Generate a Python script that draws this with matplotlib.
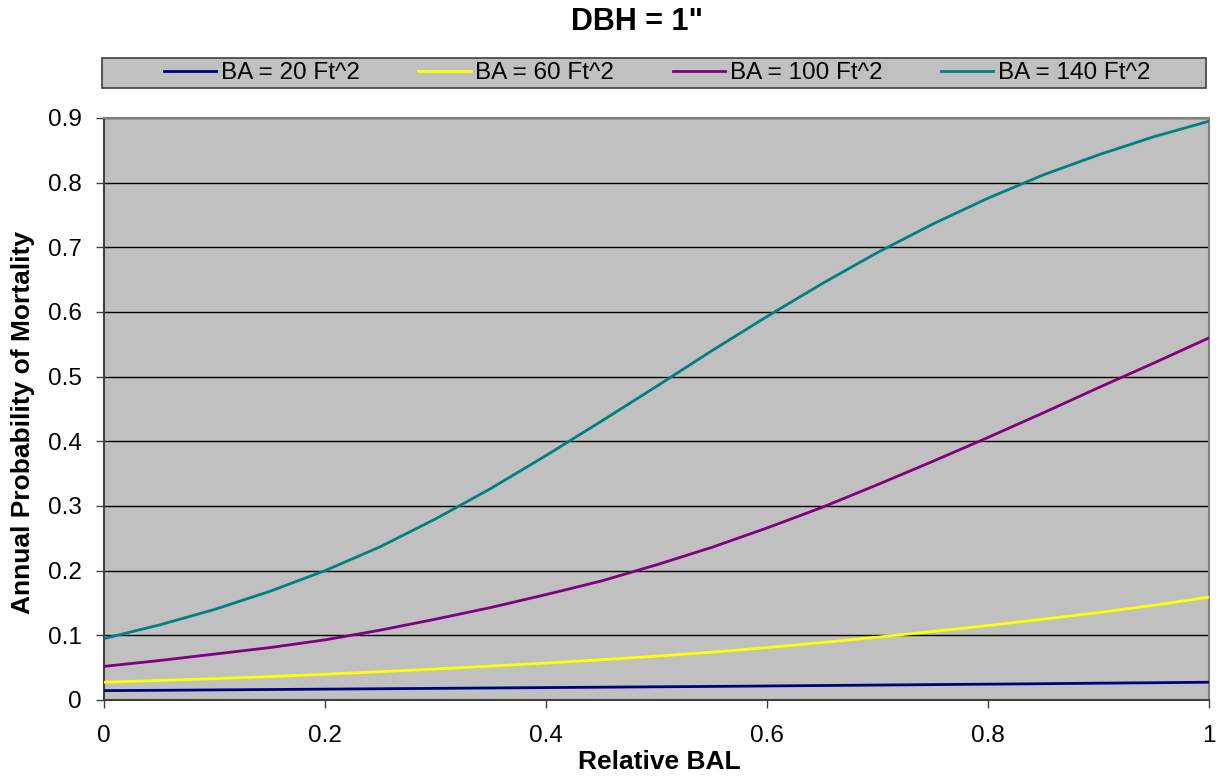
import matplotlib.pyplot as plt
from matplotlib.lines import Line2D
from matplotlib.patches import Rectangle

plt.rcParams["font.family"] = ["Liberation Sans", "DejaVu Sans"]

# relative BAL sampled every 0.05
rel_bal = [0.00, 0.05, 0.10, 0.15, 0.20, 0.25, 0.30, 0.35, 0.40, 0.45, 0.50,
           0.55, 0.60, 0.65, 0.70, 0.75, 0.80, 0.85, 0.90, 0.95, 1.00]

# annual probability of mortality for each stand basal area
ba_20 = [0.0145, 0.0150, 0.0156, 0.0162, 0.0168, 0.0174, 0.0180, 0.0186, 0.0192, 0.0198, 0.0204,
         0.0210, 0.0217, 0.0224, 0.0231, 0.0238, 0.0245, 0.0252, 0.0260, 0.0267, 0.0275]
ba_60 = [0.0275, 0.0302, 0.0330, 0.0362, 0.0398, 0.0438, 0.0480, 0.0524, 0.0571, 0.0622, 0.0678,
         0.0740, 0.0810, 0.0888, 0.0972, 0.1060, 0.1152, 0.1250, 0.1352, 0.1465, 0.1590]
ba_100 = [0.052, 0.061, 0.071, 0.081, 0.093, 0.108, 0.125, 0.143, 0.163, 0.184, 0.209,
          0.236, 0.266, 0.298, 0.333, 0.369, 0.406, 0.444, 0.483, 0.521, 0.560]
ba_140 = [0.095, 0.116, 0.140, 0.168, 0.200, 0.237, 0.280, 0.327, 0.378, 0.431, 0.485,
          0.540, 0.593, 0.644, 0.692, 0.736, 0.776, 0.812, 0.843, 0.871, 0.895]

series = [
    ("BA = 20 Ft^2", ba_20, "#000080"),
    ("BA = 60 Ft^2", ba_60, "#FFFF00"),
    ("BA = 100 Ft^2", ba_100, "#800080"),
    ("BA = 140 Ft^2", ba_140, "#008080"),
]

W, H = 1225, 777
fig = plt.figure(figsize=(W / 100, H / 100), dpi=100)
ax = fig.add_axes([104 / W, (H - 700) / H, 1105 / W, 582 / H])
ax.set_facecolor("#C0C0C0")

for label, values, color in series:
    ax.plot(rel_bal, values, color=color, linewidth=2.0, label=label, zorder=3)

ax.set_xlim(0, 1)
ax.set_ylim(0, 0.9)
ax.set_xticks([0, 0.2, 0.4, 0.6, 0.8, 1.0])
ax.set_xticklabels(["0", "0.2", "0.4", "0.6", "0.8", "1"])
ax.set_yticks([0, 0.1, 0.2, 0.3, 0.4, 0.5, 0.6, 0.7, 0.8, 0.9])
ax.set_yticklabels(["0", "0.1", "0.2", "0.3", "0.4", "0.5", "0.6", "0.7", "0.8", "0.9"])
ax.tick_params(axis="both", direction="out", length=6, width=1, labelsize=17.5,
               color="#404040")
ax.tick_params(axis="x", pad=12)
ax.tick_params(axis="y", pad=10)
ax.yaxis.grid(True, color="black", linewidth=1)
ax.set_axisbelow(True)

for side in ["top", "right"]:
    ax.spines[side].set_color("#808080")
    ax.spines[side].set_linewidth(1.5)
for side in ["left", "bottom"]:
    ax.spines[side].set_color("#404040")
    ax.spines[side].set_linewidth(1.5)

ax.set_xlabel("Relative BAL", fontsize=19, fontweight="bold", va="center")
ax.xaxis.set_label_coords(0.5 + 3 / 1105, (700 - 762) / 582)
ax.set_ylabel("Annual Probability of Mortality", fontsize=19, fontweight="bold", va="center")
ax.yaxis.set_label_coords((23 - 104) / 1105, 0.5 - 14 / 582)
fig.text(637 / W, (H - 22) / H, "DBH = 1\"", ha="center", va="center",
         fontsize=22, fontweight="bold")

# legend box across the top
fig.patches.append(Rectangle((102 / W, (H - 88) / H), 1104 / W, 30 / H,
                             transform=fig.transFigure, facecolor="#C0C0C0",
                             edgecolor="#404040", linewidth=1.2))
handles = [Line2D([0], [0], color=c, linewidth=2.0) for _, _, c in series]
labels = [lbl for lbl, _, _ in series]
fig.legend(handles, labels, loc="center", bbox_to_anchor=(657 / W, (H - 73) / H),
           ncol=4, fontsize=17.5, frameon=False, borderaxespad=0, borderpad=0,
           handlelength=2.15, handletextpad=0.2, columnspacing=2.4)

fig.savefig("out.png", dpi=100)
